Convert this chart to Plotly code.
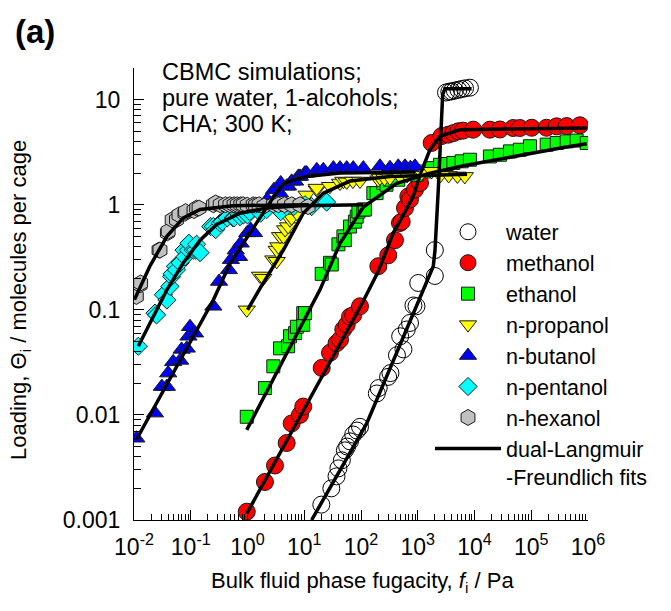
import plotly.graph_objects as go

# ---------------- data ----------------
water_f = [20, 30, 37, 40, 46, 52, 57, 64, 73, 85, 96, 190, 205, 300, 330, 430, 490, 560,
           640, 730, 840, 950, 1020, 2000, 2000, 3150, 3600, 3960, 4500, 5200, 5900, 6800, 8300]
water_q = [0.0014, 0.0020, 0.0026, 0.0031, 0.0037, 0.0046, 0.0050, 0.0056, 0.0065, 0.0071,
           0.0077, 0.016, 0.018, 0.023, 0.025, 0.037, 0.056, 0.042, 0.065, 0.075, 0.11, 0.108,
           0.18, 0.21, 0.37, 11.7, 11.9, 12.0, 12.2, 12.4, 12.6, 12.8, 13.0]
water_fit_f = [13.5, 126, 1880, 2014, 2300, 2750, 3020, 8900]
water_fit_q = [0.001, 0.0083, 0.26, 0.37, 1.39, 11.2, 12.7, 12.7]

methanol_f = [0.97, 2.03, 3.05, 4.9, 6.0, 8.4, 9.6, 20.3, 28.4, 37, 42.7, 48.7, 56, 64, 73, 96,
              202, 302, 397, 486, 521, 596, 682, 730, 893, 1096, 1760, 2630, 3460, 4240, 5190,
              6300, 9500, 18700, 28000, 48000, 63000, 102000, 186000, 280000, 420000, 720000]
methanol_q = [0.0012, 0.0023, 0.0033, 0.0054, 0.0083, 0.010, 0.012, 0.028, 0.039, 0.048, 0.052,
              0.065, 0.072, 0.086, 0.089, 0.108, 0.26, 0.33, 0.46, 0.67, 0.69, 0.93, 1.2, 1.12,
              1.39, 1.61, 3.87, 4.5, 4.64, 4.8, 5.0, 5.07, 5.18, 5.18, 5.2, 5.37, 5.37, 5.4, 5.4,
              5.57, 5.6, 5.7]
methanol_fit_f = [0.97, 100, 200, 372, 600, 832, 1096, 1644, 2466, 5550, 950000]
methanol_fit_q = [0.00115, 0.11, 0.23, 0.54, 0.86, 1.2, 1.93, 3.34, 4.48, 5.18, 5.37]

ethanol_f = [0.97, 2.03, 2.85, 3.74, 5.2, 5.6, 6.9, 7.4, 9.6, 9.6, 10.3, 20.3, 28.4, 30.5, 40,
             49, 52, 64, 78, 84, 90, 110, 117, 165, 188, 247, 281, 324, 454, 832, 955, 1375,
             1760, 2466, 3235, 4240, 5940, 8300, 18700, 28000, 42300, 63000, 95000, 187000,
             282000, 421000, 630000, 950000]
ethanol_q = [0.0096, 0.018, 0.029, 0.043, 0.045, 0.056, 0.06, 0.069, 0.072, 0.093, 0.093, 0.22,
             0.28, 0.27, 0.42, 0.50, 0.46, 0.62, 0.69, 0.77, 0.86, 0.90, 0.90, 1.29, 1.29, 1.61,
             1.55, 1.73, 1.73, 2.0, 1.93, 2.07, 2.23, 2.4, 2.44, 2.5, 2.59, 2.68, 2.88, 2.99,
             3.22, 3.34, 3.6, 3.73, 3.87, 4.01, 4.08, 3.87]
ethanol_fit_f = [0.97, 18.9, 42.7, 110, 426, 1644, 6350, 24600, 95000, 367000, 950000]
ethanol_fit_q = [0.0072, 0.155, 0.43, 0.95, 1.6, 2.0, 2.35, 2.7, 3.1, 3.5, 3.8]

propanol_f = [0.97, 1.66, 1.9, 2.85, 3.27, 3.27, 3.5, 3.74, 4.3, 4.6, 5.2, 5.6, 6.0, 7.4, 11,
              16.6, 16.6, 28.4, 42.7, 49, 56, 72, 96, 202, 216, 260, 324, 486, 650, 1175, 1760,
              2500, 3500, 5000, 6750]
propanol_q = [0.10, 0.21, 0.20, 0.30, 0.29, 0.37, 0.40, 0.50, 0.50, 0.58, 0.62, 0.72, 0.75,
              0.83, 1.24, 1.39, 1.44, 1.5, 1.61, 1.68, 1.65, 1.68, 1.68, 1.73, 1.8, 1.78, 1.8,
              1.86, 1.9, 2.0, 2.08, 1.9, 1.9, 1.88, 1.86]
propanol_fit_f = [1.0, 1.66, 4.28, 9.6, 21.7, 64, 324, 7400]
propanol_fit_q = [0.1, 0.16, 0.37, 0.83, 1.29, 1.68, 1.86, 1.95]

butanol_f = [0.011, 0.0234, 0.031, 0.038, 0.040, 0.049, 0.065, 0.069, 0.085, 0.091, 0.097,
             0.119, 0.25, 0.315, 0.47, 0.51, 0.62, 0.71, 0.76, 0.99, 1.14, 1.3, 2.23, 2.93,
             3.74, 3.85, 4.9, 5.2, 6.0, 6.9, 7.9, 8.4, 10.3, 11, 16.6, 21.7, 32.6, 42.7, 56,
             73, 110, 216, 324, 454, 596, 740, 893]
butanol_q = [0.006, 0.0104, 0.0186, 0.0186, 0.025, 0.032, 0.033, 0.042, 0.043, 0.056, 0.069,
             0.06, 0.108, 0.186, 0.24, 0.30, 0.37, 0.32, 0.43, 0.54, 0.58, 0.54, 1.12, 1.39,
             1.29, 1.61, 1.5, 1.5, 1.67, 1.67, 1.86, 1.86, 2.0, 2.0, 2.15, 2.15, 2.23, 2.23,
             2.23, 2.23, 2.23, 2.32, 2.25, 2.32, 2.32, 2.25, 2.32]
butanol_fit_f = [0.011, 0.25, 0.5, 0.99, 1.71, 2.93, 4.4, 11, 42.7, 893]
butanol_fit_q = [0.0058, 0.124, 0.28, 0.5, 0.77, 1.2, 1.61, 1.86, 2.0, 2.05]

pentanol_f = [0.0119, 0.0234, 0.025, 0.033, 0.038, 0.043, 0.046, 0.047, 0.054, 0.056, 0.065,
              0.076, 0.079, 0.091, 0.093, 0.111, 0.122, 0.127, 0.146, 0.225, 0.25, 0.275, 0.33,
              0.36, 0.44, 0.56, 0.58, 0.71, 0.74, 0.85, 1.0, 1.1, 1.71, 2.18, 3.85, 4.9, 6.5,
              10.3, 13.5, 24.8]
pentanol_q = [0.045, 0.093, 0.0895, 0.139, 0.124, 0.167, 0.207, 0.22, 0.26, 0.24, 0.28, 0.37,
              0.32, 0.37, 0.43, 0.37, 0.37, 0.42, 0.35, 0.62, 0.62, 0.58, 0.67, 0.69, 0.75, 0.75,
              0.75, 0.8, 0.77, 0.8, 0.8, 0.86, 0.83, 0.9, 0.86, 0.96, 0.96, 1.0, 0.96, 1.06]
pentanol_fit_f = [0.0119, 0.038, 0.074, 0.146, 0.286, 0.74, 2.18, 8.4, 110]
pentanol_fit_q = [0.045, 0.155, 0.28, 0.46, 0.65, 0.83, 0.93, 0.98, 1.0]

hexanol_f = [0.011, 0.0128, 0.0131, 0.0276, 0.0287, 0.0387, 0.040, 0.047, 0.056, 0.062, 0.079,
             0.081, 0.114, 0.127, 0.14, 0.25, 0.275, 0.33, 0.41, 0.49, 0.58, 0.66, 0.76, 0.84,
             0.99, 1.26, 1.39, 1.6, 1.95, 2.85, 3.5, 4.5, 6.0, 8.4, 11.7]
hexanol_q = [0.134, 0.173, 0.18, 0.37, 0.37, 0.54, 0.56, 0.72, 0.72, 0.80, 0.83, 0.86, 0.88,
             0.93, 0.93, 1.0, 1.04, 1.0, 1.0, 1.0, 1.0, 1.0, 1.0, 1.0, 0.99, 1.0, 0.99, 1.0,
             0.97, 1.0, 1.0, 1.0, 1.0, 1.0, 0.96]
hexanol_fit_f = [0.0102, 0.019, 0.038, 0.074, 0.146, 0.56, 12]
hexanol_fit_q = [0.125, 0.26, 0.5, 0.75, 0.9, 0.98, 1.0]

x_tickvals = [1e-2, 1e-1, 1e0, 1e1, 1e2, 1e3, 1e4, 1e5, 1e6]
x_ticktext = ["10<sup>-2</sup>", "10<sup>-1</sup>", "10<sup>0</sup>", "10<sup>1</sup>",
              "10<sup>2</sup>", "10<sup>3</sup>", "10<sup>4</sup>", "10<sup>5</sup>",
              "10<sup>6</sup>"]
y_tickvals = [0.001, 0.01, 0.1, 1, 10]
y_ticktext = ["0.001", "0.01", "0.1", "1", "10"]

# ---------------- figure ----------------
FONT = "Liberation Sans, Arial, sans-serif"
series = [
    ("water", water_f, water_q, "circle-open", 17, "rgba(0,0,0,0)"),
    ("methanol", methanol_f, methanol_q, "circle", 17, "#ff0000"),
    ("ethanol", ethanol_f, ethanol_q, "square", 13, "#00ff00"),
    ("n-propanol", propanol_f, propanol_q, "triangle-down", 15, "#ffff00"),
    ("n-butanol", butanol_f, butanol_q, "triangle-up", 15, "#0000ff"),
    ("n-pentanol", pentanol_f, pentanol_q, "diamond", 14, "#00ffff"),
    ("n-hexanol", hexanol_f, hexanol_q, "hexagon", 16, "#c0c0c0"),
]
fits = [
    (water_fit_f, water_fit_q), (methanol_fit_f, methanol_fit_q),
    (ethanol_fit_f, ethanol_fit_q), (propanol_fit_f, propanol_fit_q),
    (butanol_fit_f, butanol_fit_q), (pentanol_fit_f, pentanol_fit_q),
    (hexanol_fit_f, hexanol_fit_q),
]

fig = go.Figure()
for name, fx, fy, sym, size, color in series:
    if sym == "circle-open":
        marker = dict(symbol=sym, size=size, color="#000000", line=dict(width=1, color="#000000"))
    else:
        marker = dict(symbol=sym, size=size, color=color, line=dict(width=1, color="#1a1a1a"))
    fig.add_trace(go.Scatter(x=fx, y=fy, mode="markers", name=name, marker=marker))

for i, (fx, fy) in enumerate(fits):
    fig.add_trace(go.Scatter(
        x=fx, y=fy, mode="lines", line=dict(color="black", width=3.5),
        name="dual-Langmuir<br>-Freundlich fits", showlegend=(i == 0)))

axis_common = dict(type="log", showline=True, linecolor="black", linewidth=1,
                   showgrid=False, zeroline=False, mirror=False, ticks="inside",
                   tickcolor="black", tickwidth=1, ticklen=10,
                   tickfont=dict(family=FONT, size=23, color="black"))

fig.update_xaxes(range=[-2, 6], tickmode="array", tickvals=x_tickvals, ticktext=x_ticktext,
                 minor=dict(ticks="inside", ticklen=6, tickcolor="black", dtick="D1",
                            showgrid=False),
                 ticklabelstandoff=6, **axis_common)
fig.update_yaxes(range=[-3, 1.30103], tickmode="array", tickvals=y_tickvals,
                 ticktext=y_ticktext,
                 minor=dict(ticks="inside", ticklen=7, tickcolor="black", dtick="D1",
                            showgrid=False),
                 ticklabelstandoff=8, **axis_common)

fig.update_layout(
    width=671, height=611,
    margin=dict(l=134, r=83, t=68, b=91),
    paper_bgcolor="white", plot_bgcolor="white",
    font=dict(family=FONT, size=22, color="black"),
    legend=dict(x=0.652, y=0.683, xanchor="left", yanchor="top",
                bgcolor="rgba(0,0,0,0)", borderwidth=0, itemwidth=66, valign="top",
                font=dict(family=FONT, size=21.5, color="black"), tracegroupgap=0),
    showlegend=True,
)

def px_x(px):
    return (px - 134) / 454.0

def px_y(py):
    return (520 - py) / 452.0

ann = [
    dict(text="<b>(a)</b>", x=px_x(13), y=px_y(31), xanchor="left", yanchor="middle",
         font=dict(family=FONT, size=33, color="black")),
    dict(text="CBMC simulations;", x=px_x(160), y=px_y(72), xanchor="left", yanchor="middle",
         font=dict(family=FONT, size=23.5, color="black")),
    dict(text="pure water, 1-alcohols;", x=px_x(160), y=px_y(98), xanchor="left",
         yanchor="middle", font=dict(family=FONT, size=23.5, color="black")),
    dict(text="CHA; 300 K;", x=px_x(160), y=px_y(124), xanchor="left", yanchor="middle",
         font=dict(family=FONT, size=23.5, color="black")),
    dict(text="Loading, \u0398<sub>i</sub> / molecules per cage", x=px_x(20), y=px_y(300),
         xanchor="center", yanchor="middle", textangle=-90,
         font=dict(family=FONT, size=22, color="black")),
    dict(text="Bulk fluid phase fugacity, <i>f</i><sub>i</sub> / Pa", x=px_x(362),
         y=px_y(582), xanchor="center", yanchor="middle",
         font=dict(family=FONT, size=22, color="black")),
]
for a in ann:
    a.update(xref="paper", yref="paper", showarrow=False)
fig.update_layout(annotations=ann)

fig.write_html("out.html")
